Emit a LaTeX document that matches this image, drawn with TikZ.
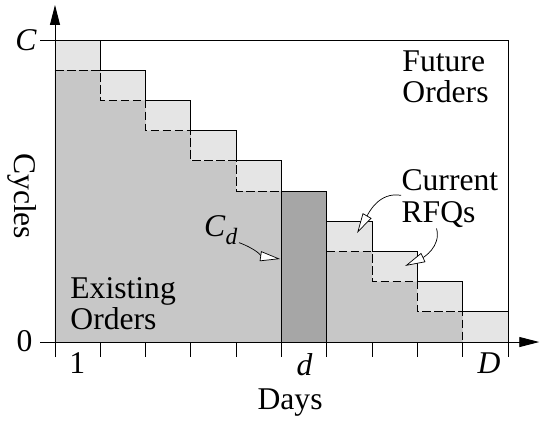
\documentclass[tikz,border=0pt]{standalone}
\usepackage{fontspec}
\setmainfont{Liberation Serif}
\usetikzlibrary{arrows.meta}

\tikzset{
    lbl/.style={inner sep=0pt, font=\fontsize{27}{26.5}\selectfont},
    callout/.style={-{Triangle[length=0.6cm, width=0.3cm, fill=white]}, line width=0.6pt},
    axis/.style={-{Triangle[length=0.6cm, width=0.3cm]}},
    future/.style={fill=black!10},
    existing/.style={fill=black!22},
    today/.style={fill=black!35},
    rfqline/.style={dash pattern=on 0.26cm off 0.1cm},
}

\begin{document}
\begin{tikzpicture}[x=1.359cm, y=0.906cm, line width=0.8pt]
    \useasboundingbox (-1.214, -2.616) rectangle (10.706, 11.325);

    % order book
    \fill[future] (0, 0) -- (0, 10) -- (1, 10) -- (1, 9) -- (2, 9) -- (2, 8) -- (3, 8) -- (3, 7) -- (4, 7) -- (4, 6) -- (5, 6) -- (5, 0) -- cycle;
    \fill[future] (6, 0) -- (6, 4) -- (7, 4) -- (7, 3) -- (8, 3) -- (8, 2) -- (9, 2) -- (9, 1) -- (10, 1) -- (10, 0) -- cycle;
    \fill[existing] (0, 0) -- (0, 9) -- (1, 9) -- (1, 8) -- (2, 8) -- (2, 7) -- (3, 7) -- (3, 6) -- (4, 6) -- (4, 5) -- (5, 5) -- (5, 0) -- cycle;
    \fill[existing] (6, 0) -- (6, 3) -- (7, 3) -- (7, 2) -- (8, 2) -- (8, 1) -- (9, 1) -- (9, 0) -- cycle;
    \filldraw[today] (5, 0) rectangle (6, 5);

    \draw[rfqline] (0, 9) -- (1, 9) -- (1, 8) -- (2, 8) -- (2, 7) -- (3, 7) -- (3, 6) -- (4, 6) -- (4, 5) -- (5, 5);
    \draw[rfqline] (6, 3) -- (7, 3) -- (7, 2) -- (8, 2) -- (8, 1) -- (9, 1) -- (9, 0);
    \draw (1, 10) -- (1, 9) -- (2, 9) -- (2, 8) -- (3, 8) -- (3, 7) -- (4, 7) -- (4, 6) -- (5, 6) -- (5, 5);
    \draw (6, 4) -- (7, 4) -- (7, 3) -- (8, 3) -- (8, 2) -- (9, 2) -- (9, 1) -- (10, 1);
    \draw (-0.33, 10) -- (10, 10) -- (10, 0);

    % axes
    \draw[axis] (0, -0.5) -- (0, 11.16);
    \draw[axis] (-0.33, 0) -- (10.69, 0);
    \draw (1, 0) -- (1, -0.5) (2, 0) -- (2, -0.5) (3, 0) -- (3, -0.5) (4, 0) -- (4, -0.5) (5, 0) -- (5, -0.5)
          (6, 0) -- (6, -0.5) (7, 0) -- (7, -0.5) (8, 0) -- (8, -0.5) (9, 0) -- (9, -0.5) (10, 0) -- (10, -0.5);

    \node[lbl] (cap) at (-0.64, 10) {\textit{C}};
    \node[lbl] (zero) at (-0.67, 0.03) {0};
    \node[lbl] (first) at (0.49, -0.7) {1};
    \node[lbl] (day) at (5.51, -0.76) {\textit{d}};
    \node[lbl] (last) at (9.58, -0.7) {\textit{D}};
    \node[lbl, anchor=base] (days) at (5.19, -2.22) {Days};
    \node[lbl, rotate=-90] (cycles) at (-0.728, 4.83) {Cycles};

    \node[lbl, align=left, anchor=west] (future) at (7.66, 8.77) {Future\\Orders};
    \node[lbl, align=left, anchor=west] (rfq) at (7.64, 4.74) {Current\\[1pt]RFQs};
    \node[lbl, align=left, anchor=west] (existing) at (0.33, 1.26) {Existing\\Orders};
    \node[lbl] (cd) at (3.66, 3.71) {\textit{C}\raisebox{-0.25em}{\fontsize{20}{20}\selectfont\textit{d}}};

    \coordinate (cdtip) at (4.97, 2.75);
    \coordinate (rfqtipa) at (6.67, 3.61);
    \coordinate (rfqtipb) at (7.73, 2.52);
    \draw[callout] ([xshift=1pt, yshift=2pt]cd.south east) to[out=-20, in=172] (cdtip);
    \draw[callout] ([yshift=3pt]rfq.west) to[out=170, in=60] (rfqtipa);
    \draw[callout] ([xshift=-0.4cm]rfq.south) to[out=-75, in=25] (rfqtipb);
\end{tikzpicture}
\end{document}
